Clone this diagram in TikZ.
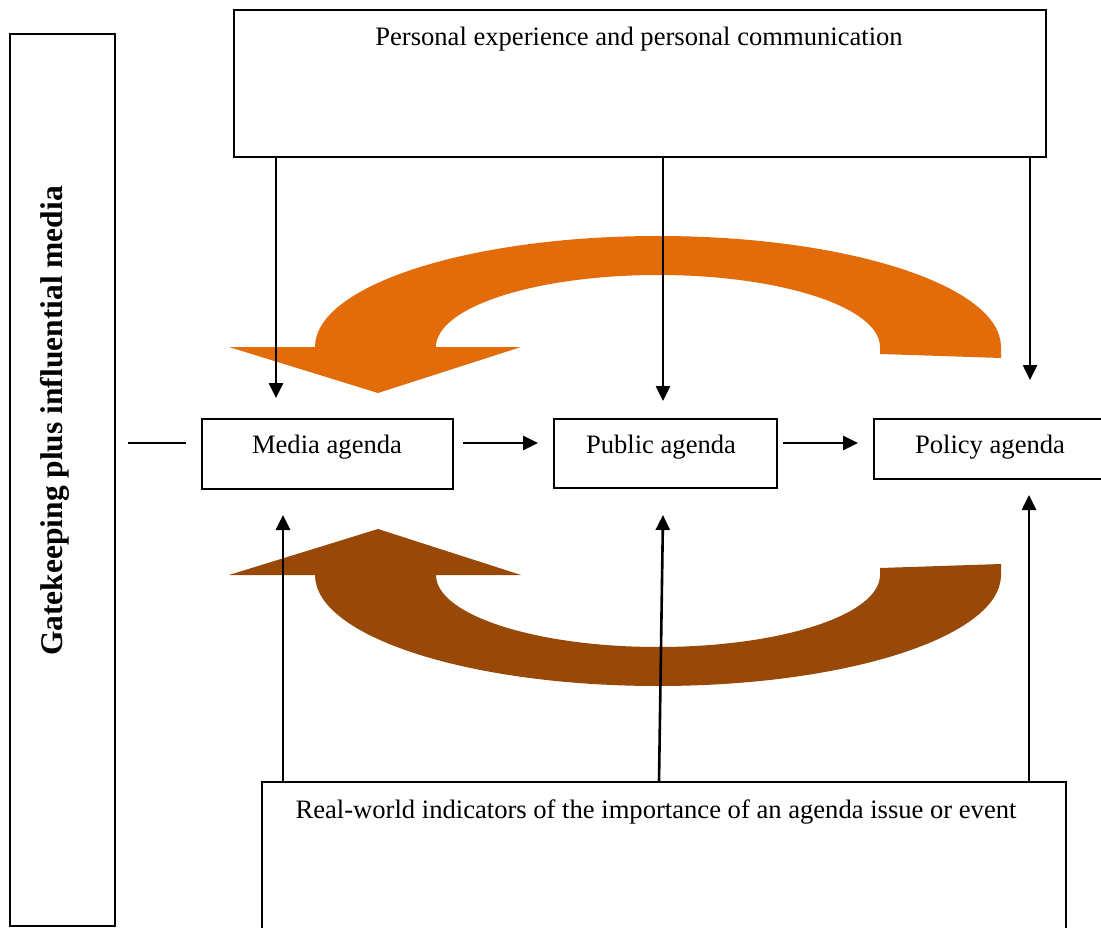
\documentclass[tikz,border=0pt]{standalone}
\usepackage{fontspec}
\setmainfont{Liberation Serif}
\usetikzlibrary{arrows.meta}
\definecolor{orangeA}{HTML}{E36C0A}
\definecolor{brownA}{HTML}{984807}
\begin{document}
\begin{tikzpicture}[x=1pt,y=-1pt,
  box/.style={draw, line width=2pt, inner sep=0pt, outer sep=0pt},
  lbl/.style={font=\fontsize{26.6}{30}\selectfont, anchor=base, inner sep=0pt},
  arr/.style={line width=2.6pt, -{Triangle[length=15pt,width=14pt]}},
  conn/.style={line width=2.6pt}]
\useasboundingbox (0,0) rectangle (1101,928);
\clip (0,0) rectangle (1101,928);
\fill[white] (0,0) rectangle (1101,928);

% curved arrows
\fill[orangeA] (1001,358) -- (1001,347) .. controls (1001,285.7) and (847.4,236) .. (658,236)
  .. controls (468.6,236) and (315,285.7) .. (315,347) -- (229,347) -- (378,393) -- (521,347) -- (436,347)
  .. controls (436,307.2) and (535.4,275) .. (658,275) .. controls (780.6,275) and (880,307.2) .. (880,347)
  -- (880,354) -- cycle;
\fill[brownA] (1001,564) -- (1001,575) .. controls (1001,636.3) and (847.4,686) .. (658,686)
  .. controls (468.6,686) and (315,636.3) .. (315,575) -- (229,575) -- (378,529) -- (521,575) -- (436,575)
  .. controls (436,614.8) and (535.4,647) .. (658,647) .. controls (780.6,647) and (880,614.8) .. (880,575)
  -- (880,568) -- cycle;

% boxes
\node[box, minimum width=105pt, minimum height=892pt] (left) at (62.5,480) {};
\node[box, minimum width=812pt, minimum height=147pt] (top) at (640,83.5) {};
\node[box, minimum width=804pt, minimum height=168pt] (bot) at (664,866) {};
\node[box, minimum width=251pt, minimum height=70pt] (media) at (327.5,454) {};
\node[box, minimum width=223pt, minimum height=69pt] (public) at (665.5,453.5) {};
\node[box, minimum width=246pt, minimum height=60pt] (policy) at (997,449) {};

% texts
\node[lbl] (toptext) at (639,46) {Personal experience and personal communication};
\node[lbl] (bottext) at (656,818) {Real-world indicators of the importance of an agenda issue or event};
\node[lbl] (mediatext) at (327,453) {Media agenda};
\node[lbl] (publictext) at (661,453) {Public agenda};
\node[lbl] (policytext) at (990,453) {Policy agenda};
\node[font=\fontsize{31.5}{34}\selectfont\bfseries, anchor=base, inner sep=0pt, rotate=90] (gate) at (62,421) {Gatekeeping plus influential media};

% connectors
\coordinate (hy) at (0,443);
\draw[conn, shorten <=13pt, shorten >=16pt] (left.east |- hy) -- (media.west |- hy);
\draw[arr, shorten <=10pt, shorten >=16pt] (media.east |- hy) -- (public.west |- hy);
\draw[arr, shorten <=6pt, shorten >=16pt] (public.east |- hy) -- (policy.west |- hy);

\coordinate (d1) at (276,398);
\coordinate (d2) at (663,401);
\coordinate (d3) at (1030,380);
\draw[arr] (top.south -| d1) -- (d1);
\draw[arr] (top.south -| d2) -- (d2);
\draw[arr] (top.south -| d3) -- (d3);

\coordinate (u1) at (283,515);
\coordinate (b2) at (659,0);
\coordinate (u2) at (663,515);
\coordinate (u3) at (1029,495);
\draw[arr] (bot.north -| u1) -- (u1);
\draw[arr] (bot.north -| b2) -- (u2);
\draw[arr] (bot.north -| u3) -- (u3);
\end{tikzpicture}
\end{document}
